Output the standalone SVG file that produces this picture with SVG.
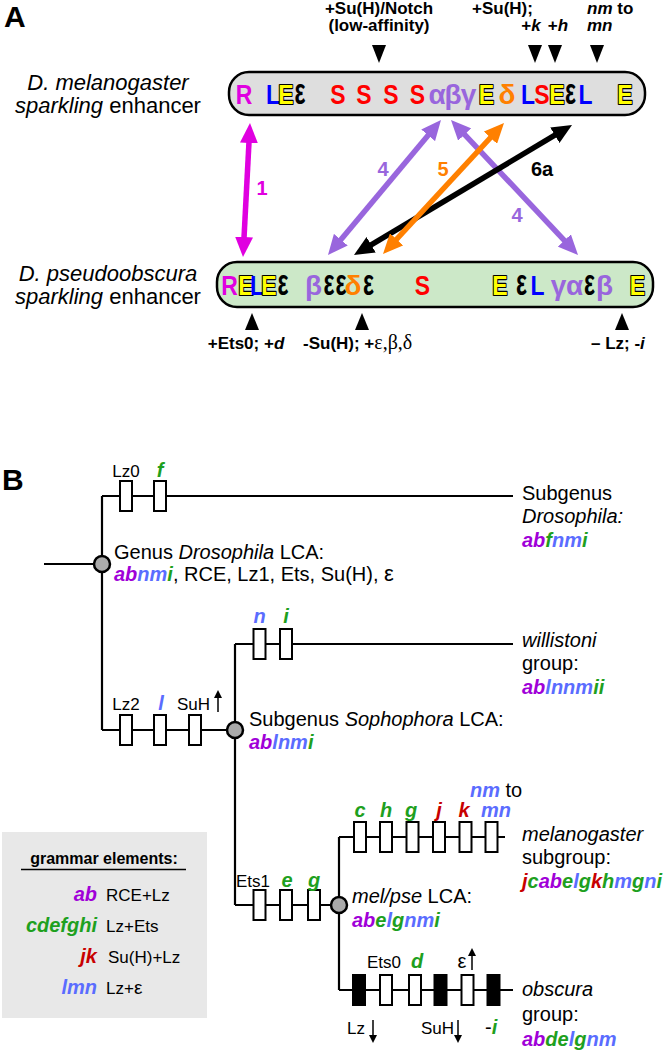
<svg xmlns="http://www.w3.org/2000/svg" width="664" height="1050" viewBox="0 0 664 1050">
<defs>
<style>
text{font-family:"Liberation Sans",Arial,sans-serif}
.panel{font-size:30px;font-weight:bold}
.enh{font-size:27px;font-weight:bold;text-anchor:middle}
.R{fill:#e000e0}
.Lb{fill:#0000ff}
.S{fill:#ff0000}
.gk{fill:#9966dd;font-size:28px}
.dl{fill:#ff8000;font-size:28px}
.E{fill:#ffff00;stroke:#000;stroke-width:2.2;paint-order:stroke;stroke-linejoin:round}
.ep{fill:#000;font-size:29px}
.tri{fill:#000}
.ann{font-size:17px;font-weight:bold}
.sp{font-size:22px}
.arr{fill:none;stroke-width:5.5}
.alab{font-size:20px;font-weight:bold;text-anchor:middle}
.tree{fill:none;stroke:#000;stroke-width:2.2}
.box{fill:#fff;stroke:#000;stroke-width:2}
.boxk{fill:#000;stroke:#000;stroke-width:2}
.node{fill:#aaaaaa;stroke:#000;stroke-width:2.5}
.t20{font-size:20px}
.t17{font-size:17px}
.ge{font-weight:bold;font-style:italic;font-size:20px}
.pu{fill:#a000d8}
.bl{fill:#5a6cff}
.gr{fill:#1ea01e}
.rd{fill:#c80000}
.sm{stroke:#000;stroke-width:1.5;fill:none}
</style>
<marker id="hM" markerUnits="userSpaceOnUse" markerWidth="20" markerHeight="18" viewBox="0 0 20 18" refX="1" refY="9" orient="auto-start-reverse"><path d="M0,0L20,9L0,18z" fill="#e000e0"/></marker>
<marker id="hP" markerUnits="userSpaceOnUse" markerWidth="20" markerHeight="18" viewBox="0 0 20 18" refX="1" refY="9" orient="auto-start-reverse"><path d="M0,0L20,9L0,18z" fill="#9966dd"/></marker>
<marker id="hO" markerUnits="userSpaceOnUse" markerWidth="20" markerHeight="18" viewBox="0 0 20 18" refX="1" refY="9" orient="auto-start-reverse"><path d="M0,0L20,9L0,18z" fill="#ff8000"/></marker>
<marker id="hK" markerUnits="userSpaceOnUse" markerWidth="20" markerHeight="18" viewBox="0 0 20 18" refX="1" refY="9" orient="auto-start-reverse"><path d="M0,0L20,9L0,18z" fill="#000"/></marker>
<marker id="sa" markerUnits="userSpaceOnUse" markerWidth="8" markerHeight="8" viewBox="0 0 8 8" refX="6" refY="4" orient="auto"><path d="M0,0L8,4L0,8z" fill="#000"/></marker>
</defs>

<!-- Panel A -->
<text class="panel" x="4" y="27">A</text>

<g id="annotations-top">
<text class="ann" x="379" y="14" text-anchor="middle">+Su(H)/Notch</text>
<text class="ann" x="379" y="31" text-anchor="middle">(low-affinity)</text>
<polygon class="tri" points="372,45 386,45 379,63"/>
<text class="ann" x="472" y="14">+Su(H);</text>
<text class="ann" x="531" y="31" text-anchor="middle">+<tspan font-style="italic">k</tspan></text>
<text class="ann" x="558" y="31" text-anchor="middle">+<tspan font-style="italic">h</tspan></text>
<polygon class="tri" points="528,45 542,45 535,63"/>
<polygon class="tri" points="548,45 562,45 555,63"/>
<text class="ann" x="587" y="14"><tspan font-style="italic">nm</tspan> to</text>
<text class="ann" x="587" y="31" font-style="italic">mn</text>
<polygon class="tri" points="590,45 604,45 597,63"/>
</g>

<g id="label-mel">
<text class="sp" x="108" y="90" text-anchor="middle" font-style="italic">D. melanogaster</text>
<text class="sp" x="108" y="113" text-anchor="middle"><tspan font-style="italic">sparkling</tspan> enhancer</text>
</g>

<g id="enh-mel">
<rect x="229" y="72" width="416" height="43" rx="20" fill="#dedede" stroke="#000" stroke-width="2.5"/>
<text class="enh R" transform="translate(244 104) scale(.85 1)">R</text>
<text class="enh Lb" transform="translate(273 104) scale(.85 1)">L</text>
<text class="enh E" transform="translate(286 104) scale(.85 1)">E</text>
<text class="enh ep" transform="translate(300 104) scale(.8 1.3)">ε</text>
<text class="enh S" transform="translate(338 104) scale(.85 1)">S</text>
<text class="enh S" transform="translate(364 104) scale(.85 1)">S</text>
<text class="enh S" transform="translate(391 104) scale(.85 1)">S</text>
<text class="enh S" transform="translate(417.5 104) scale(.85 1)">S</text>
<text class="enh gk" x="437" y="104">α</text>
<text class="enh gk" x="453" y="104">β</text>
<text class="enh gk" x="468.5" y="104">γ</text>
<text class="enh E" transform="translate(486.5 104) scale(.85 1)">E</text>
<text class="enh dl" x="507" y="104">δ</text>
<text class="enh Lb" transform="translate(528 104) scale(.85 1)">L</text>
<text class="enh S" transform="translate(542 104) scale(.85 1)">S</text>
<text class="enh E" transform="translate(557 104) scale(.85 1)">E</text>
<text class="enh ep" transform="translate(570.5 104) scale(.8 1.3)">ε</text>
<text class="enh Lb" transform="translate(585.5 104) scale(.85 1)">L</text>
<text class="enh E" transform="translate(625 104) scale(.85 1)">E</text>
</g>

<g id="label-pse">
<text class="sp" x="108" y="281" text-anchor="middle" font-style="italic">D. pseudoobscura</text>
<text class="sp" x="108" y="304" text-anchor="middle"><tspan font-style="italic">sparkling</tspan> enhancer</text>
</g>

<g id="enh-pse">
<rect x="217" y="262" width="436" height="45" rx="20" fill="#cce8c8" stroke="#000" stroke-width="2.5"/>
<text class="enh R" transform="translate(229.5 295) scale(.85 1)">R</text>
<text class="enh E" transform="translate(246 295) scale(.85 1)">E</text>
<text class="enh Lb" transform="translate(257 295) scale(.85 1)">L</text>
<text class="enh E" transform="translate(269 295) scale(.85 1)">E</text>
<text class="enh ep" transform="translate(283 295) scale(.8 1.3)">ε</text>
<text class="enh gk" x="313.5" y="295">β</text>
<text class="enh ep" transform="translate(329 295) scale(.8 1.3)">ε</text>
<text class="enh ep" transform="translate(341 295) scale(.8 1.3)">ε</text>
<text class="enh dl" x="353" y="295">δ</text>
<text class="enh ep" transform="translate(368.5 295) scale(.8 1.3)">ε</text>
<text class="enh S" transform="translate(422.5 295) scale(.85 1)">S</text>
<text class="enh E" transform="translate(500 295) scale(.85 1)">E</text>
<text class="enh ep" transform="translate(521.5 295) scale(.8 1.3)">ε</text>
<text class="enh Lb" transform="translate(537.5 295) scale(.85 1)">L</text>
<text class="enh gk" x="558.5" y="295">γ</text>
<text class="enh gk" x="574.5" y="295">α</text>
<text class="enh ep" transform="translate(589.5 295) scale(.8 1.3)">ε</text>
<text class="enh gk" x="604.5" y="295">β</text>
<text class="enh E" transform="translate(637.5 295) scale(.85 1)">E</text>
</g>

<g id="annotations-bottom">
<polygon class="tri" points="245,330 259,330 252,313"/>
<polygon class="tri" points="355,330 369,330 362,313"/>
<polygon class="tri" points="615,330 629,330 622,313"/>
<text class="ann" x="246" y="349" text-anchor="middle">+Ets0; +<tspan font-style="italic">d</tspan></text>
<text class="ann" x="303" y="349">-Su(H); +<tspan font-family="Liberation Serif" font-weight="normal" font-size="20">ε,β,δ</tspan></text>
<text class="ann" x="591" y="349">– Lz; -<tspan font-style="italic">i</tspan></text>
</g>

<g id="arrows">
<line class="arr" stroke="#e000e0" x1="249" y1="142" x2="244" y2="238" marker-start="url(#hM)" marker-end="url(#hM)"/>
<line class="arr" stroke="#9966dd" x1="428.8" y1="134.6" x2="340.2" y2="240.4" marker-start="url(#hP)" marker-end="url(#hP)"/>
<line class="arr" stroke="#9966dd" x1="464" y1="133.8" x2="565" y2="241.2" marker-start="url(#hP)" marker-end="url(#hP)"/>
<line class="arr" stroke="#000" x1="555.7" y1="134.7" x2="370.3" y2="245.3" marker-start="url(#hK)" marker-end="url(#hK)"/>
<line class="arr" stroke="#ff8000" x1="491.1" y1="137" x2="395.9" y2="240" marker-start="url(#hO)" marker-end="url(#hO)"/>
<text class="alab" x="262" y="195" fill="#e000e0">1</text>
<text class="alab" x="383" y="176" fill="#9966dd">4</text>
<text class="alab" x="443" y="176" fill="#ff8000">5</text>
<text class="alab" x="542" y="176" fill="#000">6a</text>
<text class="alab" x="517" y="222" fill="#9966dd">4</text>
</g>

<!-- Panel B -->
<text class="panel" x="2" y="490">B</text>

<g id="connectors">
<path class="tree" d="M44,564H102M102,496V730M102,496H513M102,730H235M235,644V905M235,644H513M235,905H339M339,837V990M339,837H505M339,990H513"/>
</g>

<g id="branch-drosophila">
<rect class="box" x="120" y="481" width="12" height="30"/>
<rect class="box" x="154" y="481" width="12" height="30"/>
<text class="t17" x="126" y="477" text-anchor="middle">Lz0</text>
<text class="ge gr" x="160" y="477" text-anchor="middle">f</text>
</g>

<g id="subgenus-drosophila">
<text class="t20" x="522" y="500">Subgenus</text>
<text class="t20" x="522" y="523" font-style="italic">Drosophila:</text>
<text class="ge" x="522" y="547"><tspan class="pu">ab</tspan><tspan class="gr">f</tspan><tspan class="bl">nm</tspan><tspan class="gr">i</tspan></text>
</g>

<g id="genus-lca">
<circle class="node" cx="102" cy="564" r="8"/>
<text class="t20" x="114" y="559">Genus <tspan font-style="italic">Drosophila</tspan> LCA:</text>
<text class="t20" x="114" y="581"><tspan class="ge pu">ab</tspan><tspan class="ge bl">nm</tspan><tspan class="ge gr">i</tspan>, RCE, Lz1, Ets, Su(H), <tspan font-size="22">ε</tspan></text>
</g>

<g id="branch-willistoni">
<rect class="box" x="253.5" y="629" width="12" height="30"/>
<rect class="box" x="280" y="629" width="12" height="30"/>
<text class="ge bl" x="259.5" y="623" text-anchor="middle">n</text>
<text class="ge gr" x="286" y="623" text-anchor="middle">i</text>
</g>

<g id="willistoni-group">
<text class="t20" x="522" y="647" font-style="italic">willistoni</text>
<text class="t20" x="522" y="670">group:</text>
<text class="ge" x="522" y="694"><tspan class="pu">ab</tspan><tspan class="bl">lnnm</tspan><tspan class="gr">ii</tspan></text>
</g>

<g id="branch-sophophora">
<rect class="box" x="120" y="715" width="12" height="30"/>
<rect class="box" x="154" y="715" width="12" height="30"/>
<rect class="box" x="189" y="715" width="12" height="30"/>
<text class="t17" x="126" y="710" text-anchor="middle">Lz2</text>
<text class="ge bl" x="161" y="710" text-anchor="middle">l</text>
<text class="t17" x="177" y="710">SuH</text>
<line class="sm" x1="218" y1="712" x2="218" y2="692" marker-end="url(#sa)"/>
</g>

<g id="sophophora-lca">
<circle class="node" cx="235" cy="730" r="8"/>
<text class="t20" x="249" y="726">Subgenus <tspan font-style="italic">Sophophora</tspan> LCA:</text>
<text class="ge" x="249" y="749"><tspan class="pu">ab</tspan><tspan class="bl">lnm</tspan><tspan class="gr">i</tspan></text>
</g>

<g id="branch-melpse">
<rect class="box" x="253.5" y="890" width="12" height="30"/>
<rect class="box" x="280" y="890" width="12" height="30"/>
<rect class="box" x="308" y="890" width="12" height="30"/>
<text class="t17" x="253" y="887" text-anchor="middle">Ets1</text>
<text class="ge gr" x="287" y="887" text-anchor="middle">e</text>
<text class="ge gr" x="314" y="887" text-anchor="middle">g</text>
</g>

<g id="melpse-lca">
<circle class="node" cx="339" cy="905" r="8"/>
<text class="t20" x="352" y="903"><tspan font-style="italic">mel/pse</tspan> LCA:</text>
<text class="ge" x="352" y="927"><tspan class="pu">ab</tspan><tspan class="gr">e</tspan><tspan class="bl">l</tspan><tspan class="gr">g</tspan><tspan class="bl">nm</tspan><tspan class="gr">i</tspan></text>
</g>

<g id="branch-melanogaster">
<rect class="box" x="354" y="822" width="12" height="30"/>
<rect class="box" x="380" y="822" width="12" height="30"/>
<rect class="box" x="406.5" y="822" width="12" height="30"/>
<rect class="box" x="433" y="822" width="12" height="30"/>
<rect class="box" x="459.5" y="822" width="12" height="30"/>
<rect class="box" x="485.5" y="822" width="12" height="30"/>
<text class="ge gr" x="360" y="817" text-anchor="middle">c</text>
<text class="ge gr" x="386" y="817" text-anchor="middle">h</text>
<text class="ge gr" x="411" y="817" text-anchor="middle">g</text>
<text class="ge rd" x="439" y="817" text-anchor="middle">j</text>
<text class="ge rd" x="464" y="817" text-anchor="middle">k</text>
<text class="ge bl" x="496" y="817" text-anchor="middle">mn</text>
<text class="t20" x="470" y="797"><tspan class="ge bl">nm</tspan> to</text>
</g>

<g id="melanogaster-subgroup">
<text class="t20" x="522" y="841" font-style="italic">melanogaster</text>
<text class="t20" x="522" y="864">subgroup:</text>
<text class="ge" x="522" y="888"><tspan class="rd">j</tspan><tspan class="gr">c</tspan><tspan class="pu">ab</tspan><tspan class="gr">e</tspan><tspan class="bl">l</tspan><tspan class="gr">g</tspan><tspan class="rd">k</tspan><tspan class="gr">h</tspan><tspan class="bl">m</tspan><tspan class="gr">g</tspan><tspan class="bl">n</tspan><tspan class="gr">i</tspan></text>
</g>

<g id="branch-obscura">
<rect class="boxk" x="353" y="975" width="12" height="30"/>
<rect class="box" x="380" y="975" width="12" height="30"/>
<rect class="box" x="409" y="975" width="12" height="30"/>
<rect class="boxk" x="434.5" y="975" width="12" height="30"/>
<rect class="box" x="461.5" y="975" width="12" height="30"/>
<rect class="boxk" x="487.5" y="975" width="12" height="30"/>
<text class="t17" x="384" y="968" text-anchor="middle">Ets0</text>
<text class="ge gr" x="417" y="968" text-anchor="middle">d</text>
<text class="t20" x="462" y="968" text-anchor="middle" font-size="22">ε</text>
<line class="sm" x1="472" y1="970" x2="472" y2="950" marker-end="url(#sa)"/>
<text class="t17" x="347" y="1034">Lz</text>
<line class="sm" x1="373" y1="1020" x2="373" y2="1041" marker-end="url(#sa)"/>
<text class="t17" x="421" y="1034">SuH</text>
<line class="sm" x1="458" y1="1020" x2="458" y2="1041" marker-end="url(#sa)"/>
<text class="t20" x="485" y="1034">-<tspan class="ge gr">i</tspan></text>
</g>

<g id="obscura-group">
<text class="t20" x="522" y="996" font-style="italic">obscura</text>
<text class="t20" x="522" y="1021">group:</text>
<text class="ge" x="522" y="1046"><tspan class="pu">ab</tspan><tspan class="gr">de</tspan><tspan class="bl">l</tspan><tspan class="gr">g</tspan><tspan class="bl">nm</tspan></text>
</g>

<g id="legend">
<rect x="2" y="832" width="205" height="186" fill="#e8e8e8"/>
<text x="104" y="864" text-anchor="middle" font-size="16" font-weight="bold">grammar elements:</text>
<line x1="21" y1="869.5" x2="186" y2="869.5" stroke="#000" stroke-width="1.5"/>
<text class="ge pu" x="97" y="901" text-anchor="end">ab</text>
<text class="t17" x="106" y="901">RCE+Lz</text>
<text class="ge gr" x="97" y="932" text-anchor="end">cdefghi</text>
<text class="t17" x="106" y="932">Lz+Ets</text>
<text class="ge rd" x="97" y="963" text-anchor="end">jk</text>
<text class="t17" x="108" y="963">Su(H)+Lz</text>
<text class="ge bl" x="97" y="994" text-anchor="end">lmn</text>
<text class="t17" x="106" y="994">Lz+<tspan font-size="19">ε</tspan></text>
</g>
</svg>
